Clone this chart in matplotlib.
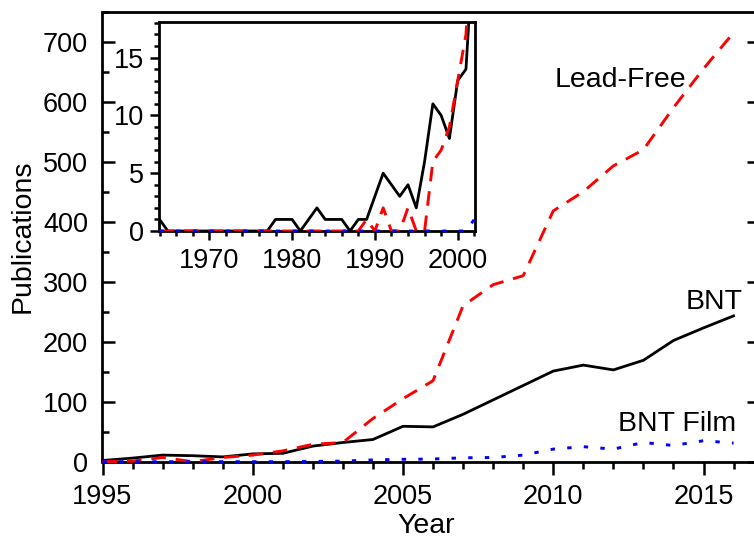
import matplotlib
matplotlib.use('Agg')
import matplotlib.pyplot as plt
from matplotlib.ticker import MultipleLocator

plt.rcParams['font.family'] = ['Liberation Sans', 'DejaVu Sans']
FS = 19.5      # tick labels
FL = 20.5      # axis labels / annotations

# ---- main chart data ----
years = [1995, 1996, 1997, 1998, 1999, 2000, 2001, 2002, 2003, 2004, 2005,
         2006, 2007, 2008, 2009, 2010, 2011, 2012, 2013, 2014, 2015, 2016]
bnt = [2, 6, 11, 10, 8, 13, 14, 26, 32, 37, 59,
       58, 79, 103, 127, 151, 161, 153, 169, 202, 223, 243]
lead_free = [0, 1, 7, 0, 7, 11, 18, 29, 32, 72, 105,
             135, 260, 295, 310, 418, 450, 493, 520, 590, 655, 715]
bnt_film = [0, 0, 0, 0, 0, 0, 0, 0.5, 1, 3, 4,
            4.5, 6.5, 7, 11, 21, 25, 21, 32, 27, 35, 31]

# ---- inset data (1964-2002) ----
inset_years = [1964, 1965, 1966, 1967, 1968, 1969, 1970, 1971, 1972, 1973,
               1974, 1975, 1976, 1977, 1978, 1979, 1980, 1981, 1982, 1983,
               1984, 1985, 1986, 1987, 1988, 1989, 1990, 1991, 1992, 1993,
               1994, 1995, 1996, 1997, 1998, 1999, 2000, 2001, 2002]
inset_bnt = [1, 0, 0, 0, 0, 0, 0, 0, 0, 0,
             0, 0, 0, 0, 1, 1, 1, 0, 1, 2,
             1, 1, 1, 0, 1, 1, 3, 5, 4, 3,
             4, 2, 6, 11, 10, 8, 13, 14, 26]
inset_lead = [0, 0, 0, 0, 0, 0, 0, 0, 0, 0,
              0, 0, 0, 0, 0, 0, 0, 0, 0, 0,
              0, 0, 0, 0, 0, 1, 0, 2, 0, 0,
              2, 0, 0, 6, 7, 9, 13, 17, 29]
inset_film = [0, 0, 0, 0, 0, 0, 0, 0, 0, 0,
              0, 0, 0, 0, 0, 0, 0, 0, 0, 0,
              0, 0, 0, 0, 0, 0, 0, 0, 0, 0,
              0, 0, 0, 0, 0, 0, 0, 0, 1]

W, H = 754, 538
fig = plt.figure(figsize=(W / 100, H / 100), dpi=100)

def frac_box(l, t, r, b):
    return [l / W, 1 - b / H, (r - l) / W, (b - t) / H]

RED_DASH = (0, (5.0, 3.4))
BLUE_DOT = (0, (1.5, 4.2))

# ---- main axes ----
AXL, AXR, AXT, AXB = 102.5, 760, 11.7, 461.7
ax = fig.add_axes(frac_box(AXL, AXT, AXR, AXB))
ax.plot(years, bnt, color='black', lw=2.0, zorder=3, clip_on=False)
ax.plot(years, lead_free, color='#ff0000', lw=2.1, linestyle=RED_DASH, zorder=4, clip_on=False)
ax.plot(years, bnt_film, color='#0000ff', lw=2.1, linestyle=BLUE_DOT, zorder=5, clip_on=False)

ax.set_xlim(1995, 1995 + (AXR - AXL) / 30.05)
ax.set_ylim(0, 750)
ax.xaxis.set_major_locator(MultipleLocator(5))
ax.xaxis.set_minor_locator(MultipleLocator(1))
ax.yaxis.set_major_locator(MultipleLocator(100))
ax.yaxis.set_minor_locator(MultipleLocator(50))
for s in ax.spines.values():
    s.set_linewidth(2.0)
ax.tick_params(axis='x', which='major', direction='out', length=9.4, width=1.8,
               labelsize=FS, pad=7, top=False)
ax.tick_params(axis='x', which='minor', direction='out', length=5, width=1.8, top=False)
ax.tick_params(axis='y', which='major', direction='in', length=9.4, width=1.8,
               labelsize=FS, pad=10.4, left=True, right=True)
ax.tick_params(axis='y', which='minor', direction='in', length=5, width=1.8,
               left=True, right=False)
ax.set_xlabel('Year', fontsize=FL)
ax.set_ylabel('Publications', fontsize=FL)
ax.xaxis.set_label_coords((426 - AXL) / (AXR - AXL), -(513 - AXB) / (AXB - AXT))
ax.yaxis.set_label_coords(-(AXL - 36) / (AXR - AXL), 0.5)

ax.text(555 / W, 1 - 80 / H, 'Lead-Free', transform=fig.transFigure,
        fontsize=FL, ha='left', va='center')
ax.text(686 / W, 1 - 302 / H, 'BNT', transform=fig.transFigure,
        fontsize=FL, ha='left', va='center')
ax.text(618 / W, 1 - 424 / H, 'BNT Film', transform=fig.transFigure,
        fontsize=FL, ha='left', va='center')

# ---- inset axes ----
ia = fig.add_axes(frac_box(159, 21.7, 475, 231))
ia.plot(inset_years, inset_bnt, color='black', lw=2.0, zorder=3)
ia.plot(inset_years, inset_lead, color='#ff0000', lw=2.1, linestyle=RED_DASH, zorder=4)
ia.plot(inset_years, inset_film, color='#0000ff', lw=2.1, linestyle=BLUE_DOT, zorder=5,
        clip_on=False)
ia.set_xlim(1963.93, 2002.09)
ia.set_ylim(0, 18.1)
ia.xaxis.set_major_locator(MultipleLocator(10))
ia.xaxis.set_minor_locator(MultipleLocator(2))
ia.yaxis.set_major_locator(MultipleLocator(5))
ia.yaxis.set_minor_locator(MultipleLocator(1))
for s in ia.spines.values():
    s.set_linewidth(2.0)
ia.tick_params(which='major', direction='out', length=6.5, width=1.8, labelsize=FS)
ia.tick_params(which='minor', direction='out', length=3.5, width=1.8)
ia.tick_params(axis='x', pad=6)
ia.tick_params(axis='y', pad=4)

fig.savefig('out.png', dpi=100)
